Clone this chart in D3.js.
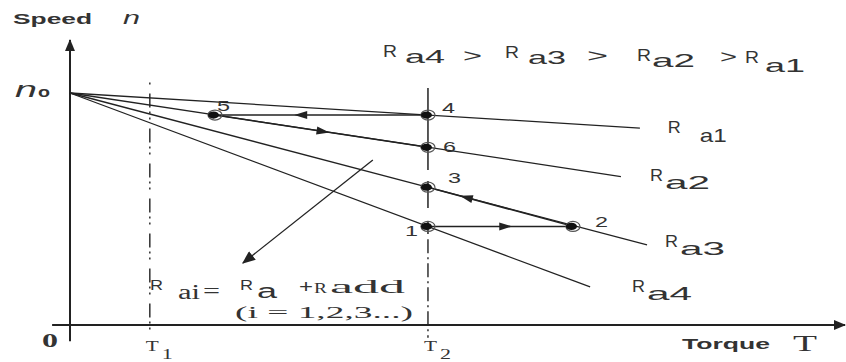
<!DOCTYPE html>
<html><head><meta charset="utf-8">
<script src="https://cdn.jsdelivr.net/npm/d3@7"></script>
<style>body{margin:0;background:#fff}svg{display:block}</style>
</head><body>
<svg id="c" width="846" height="362"></svg>
<script>
// ---- data (torque in units of T2, speed in units of n0) ----
const lineSubscripts = ["a1", "a2", "a3", "a4"];
const lineEndTorque = [1.592, 1.539, 1.612, 1.453];
const lineEndSpeed = [0.849, 0.640, 0.345, 0.164];
const noLoadSpeed = 1.0;
const pointLabels = ["1", "2", "3", "4", "5", "6"];
const pointTorque = [1.0, 1.405, 1.0, 1.0, 0.405, 1.0];
const pointSpeed = [0.425, 0.425, 0.594, 0.905, 0.905, 0.766];
const transitionFrom = [0, 1, 3, 4];
const transitionTo = [1, 2, 4, 5];
const torqueMarks = [0.223, 1.0];
const torqueMarkLabels = ["1", "2"];
const noteArrowTorque = [0.846, 0.483];
const noteArrowSpeed = [0.711, 0.267];
// solid pieces of the T2 line (speed ranges), then dash-dot below
const t2SolidTop = [1.022, 0.621, 0.448];
const t2SolidBottom = [0.668, 0.504, 0.392];

const svg = d3.select("#c");
const x = d3.scaleLinear().domain([0, 2.165]).range([70, 845]);
const y = d3.scaleLinear().domain([0, 1]).range([325, 93]);
const ink = "#222";
const txt = "#333";

const defs = svg.append("defs");
defs.append("marker").attr("id", "axarrow").attr("viewBox", "0 0 12 10")
  .attr("refX", 11).attr("refY", 5).attr("markerWidth", 12).attr("markerHeight", 10)
  .attr("markerUnits", "userSpaceOnUse").attr("orient", "auto")
  .append("path").attr("d", "M0,0 L12,5 L0,10 Z").attr("fill", ink);
defs.append("marker").attr("id", "notearrow").attr("viewBox", "0 0 12 10")
  .attr("refX", 11).attr("refY", 5).attr("markerWidth", 14).attr("markerHeight", 11)
  .attr("markerUnits", "userSpaceOnUse").attr("orient", "auto")
  .append("path").attr("d", "M0,0 L12,5 L0,10 Z").attr("fill", ink);

// axes
svg.append("line").attr("x1", x(-0.05)).attr("x2", x(2.165))
  .attr("y1", y(0)).attr("y2", y(0)).attr("stroke", ink).attr("stroke-width", 2)
  .attr("marker-end", "url(#axarrow)");
svg.append("line").attr("x1", x(0)).attr("x2", x(0))
  .attr("y1", y(-0.07)).attr("y2", y(1.228)).attr("stroke", ink).attr("stroke-width", 2)
  .attr("marker-end", "url(#axarrow)");

// T1 dash-dot line
svg.append("line").attr("x1", x(torqueMarks[0])).attr("x2", x(torqueMarks[0]))
  .attr("y1", y(1.045)).attr("y2", y(-0.055)).attr("stroke", ink).attr("stroke-width", 1.4)
  .attr("stroke-dasharray", "2,9,14,4,2,4");
// T2: solid pieces in upper part, dash-dot lower part
svg.append("g").selectAll("line").data(t2SolidTop).join("line")
  .attr("x1", x(torqueMarks[1])).attr("x2", x(torqueMarks[1]))
  .attr("y1", d => y(d)).attr("y2", (d, i) => y(t2SolidBottom[i]))
  .attr("stroke", ink).attr("stroke-width", 1.5);
svg.append("line").attr("x1", x(torqueMarks[1])).attr("x2", x(torqueMarks[1]))
  .attr("y1", y(0.37)).attr("y2", y(-0.055)).attr("stroke", ink).attr("stroke-width", 1.4)
  .attr("stroke-dasharray", "14,4,2,4");

// characteristic lines
svg.append("g").selectAll("line").data(lineSubscripts).join("line")
  .attr("x1", x(0)).attr("y1", y(noLoadSpeed))
  .attr("x2", (d, i) => x(lineEndTorque[i])).attr("y2", (d, i) => y(lineEndSpeed[i]))
  .attr("stroke", ink).attr("stroke-width", 1.3);

// transitions with mid arrows
const arrowFrac = [0.54, 0.74, 0.6, 0.51];
transitionFrom.forEach((a, k) => {
  const b = transitionTo[k];
  const x1 = x(pointTorque[a]), y1 = y(pointSpeed[a]);
  const x2 = x(pointTorque[b]), y2 = y(pointSpeed[b]);
  svg.append("line").attr("x1", x1).attr("y1", y1).attr("x2", x2).attr("y2", y2)
    .attr("stroke", ink).attr("stroke-width", 1.5);
  const t = arrowFrac[k];
  const mx = x1 + (x2 - x1) * t, my = y1 + (y2 - y1) * t;
  const ang = Math.atan2(y2 - y1, x2 - x1) * 180 / Math.PI;
  svg.append("path").attr("d", "M6,0 L-7,-4 L-7,4 Z").attr("fill", ink)
    .attr("transform", `translate(${mx},${my}) rotate(${ang})`);
});

// note arrow
svg.append("line")
  .attr("x1", x(noteArrowTorque[0])).attr("y1", y(noteArrowSpeed[0]))
  .attr("x2", x(noteArrowTorque[1])).attr("y2", y(noteArrowSpeed[1]))
  .attr("stroke", ink).attr("stroke-width", 1.3).attr("marker-end", "url(#notearrow)");

// operating points
const pts = svg.append("g").selectAll("g").data(pointLabels).join("g")
  .attr("transform", (d, i) => `translate(${x(pointTorque[i])},${y(pointSpeed[i])})`);
pts.append("ellipse").attr("rx", 7).attr("ry", 5).attr("fill", "none")
  .attr("stroke", "#555").attr("stroke-width", 1.2);
pts.append("ellipse").attr("cx", -1.5).attr("rx", 5.5).attr("ry", 3.6).attr("fill", "#111");

// point labels
const labelOff = [[-23, 10], [22, 1], [20, -4], [14, -2], [2, -4], [15, 5]];
svg.append("g").selectAll("text").data(pointLabels).join("text")
  .attr("x", (d, i) => x(pointTorque[i]) + labelOff[i][0])
  .attr("y", (d, i) => y(pointSpeed[i]) + labelOff[i][1])
  .attr("font-family", "Liberation Sans, Arial, sans-serif").attr("font-size", 15)
  .attr("fill", txt).attr("textLength", 13).attr("lengthAdjust", "spacingAndGlyphs")
  .text(d => d);

// helper for stretched text
function T(s, px, py, size, opts = {}) {
  const t = svg.append("text").attr("x", px).attr("y", py)
    .attr("font-family", opts.family || "Liberation Sans, Arial, sans-serif")
    .attr("font-size", size).attr("fill", opts.fill || txt)
    .attr("font-weight", opts.weight || "normal")
    .attr("font-style", opts.style || "normal").text(s);
  if (opts.len) t.attr("textLength", opts.len).attr("lengthAdjust", "spacingAndGlyphs");
  return t;
}

// line labels R a_i
const rOff = [[28, 5], [29, 4], [18, 2], [42, 5]];
lineSubscripts.forEach((s, i) => {
  const ex = x(lineEndTorque[i]) + rOff[i][0], ey = y(lineEndSpeed[i]) + rOff[i][1];
  T("R", ex, ey, 16, { len: 13 });
  T(s, ex + (i === 0 ? 32 : 15), ey + (i === 0 ? 9 : 8), 19, { len: i === 0 ? 27 : 45 });
});

// top inequality
const topParts = [["R", 383, 57, 16, 14], ["a4", 405, 63, 19, 40], [">", 463, 62, 18, 19],
  ["R", 505, 58, 16, 14], ["a3", 528, 64, 19, 38], [">", 587, 62, 18, 21],
  ["R", 637, 61, 16, 14], ["a2", 652, 67, 19, 43], [">", 720, 63, 18, 17],
  ["R", 745, 63, 16, 14], ["a1", 765, 72, 19, 40]];
topParts.forEach(p => T(p[0], p[1], p[2], p[3], { len: p[4] }));

// axis titles
T("Speed", 13, 24, 15, { weight: "bold", len: 79 });
T("n", 123, 24, 18, { style: "italic", len: 17 });
T("n", 15, 97, 22, { style: "italic", len: 22 });
T("o", 38, 97, 14, { weight: "bold", len: 12 });
T("0", 42, 347, 18, { weight: "bold", family: "Liberation Serif, serif", len: 16 });
T("Torque", 682, 349, 15, { weight: "bold", len: 88 });
T("T", 793, 351, 24, { family: "Liberation Serif, serif", len: 24 });

// torque marks T1, T2
torqueMarks.forEach((m, i) => {
  T("T", x(m) - 4, 351, 14, { family: "Liberation Serif, serif", len: 13 });
  T(torqueMarkLabels[i], x(m) + 12, 359, 14, { family: "Liberation Serif, serif", len: 11 });
});

// formula
const serif = "Liberation Serif, serif";
T("R", 150, 290, 15, { len: 13 });
T("ai", 178, 299, 20, { family: serif, len: 22 });
T("=", 203, 298, 20, { family: serif, len: 17 });
T("R", 240, 290, 15, { len: 13 });
T("a", 257, 298, 20, { len: 20 });
T("+", 299, 293, 18, { len: 14 });
T("R", 314, 293, 15, { family: serif, len: 13 });
T("add", 330, 293, 18, { family: serif, len: 75 });
T("(i = 1,2,3...)", 235, 318, 17, { family: serif, len: 178 });
</script>
</body></html>
